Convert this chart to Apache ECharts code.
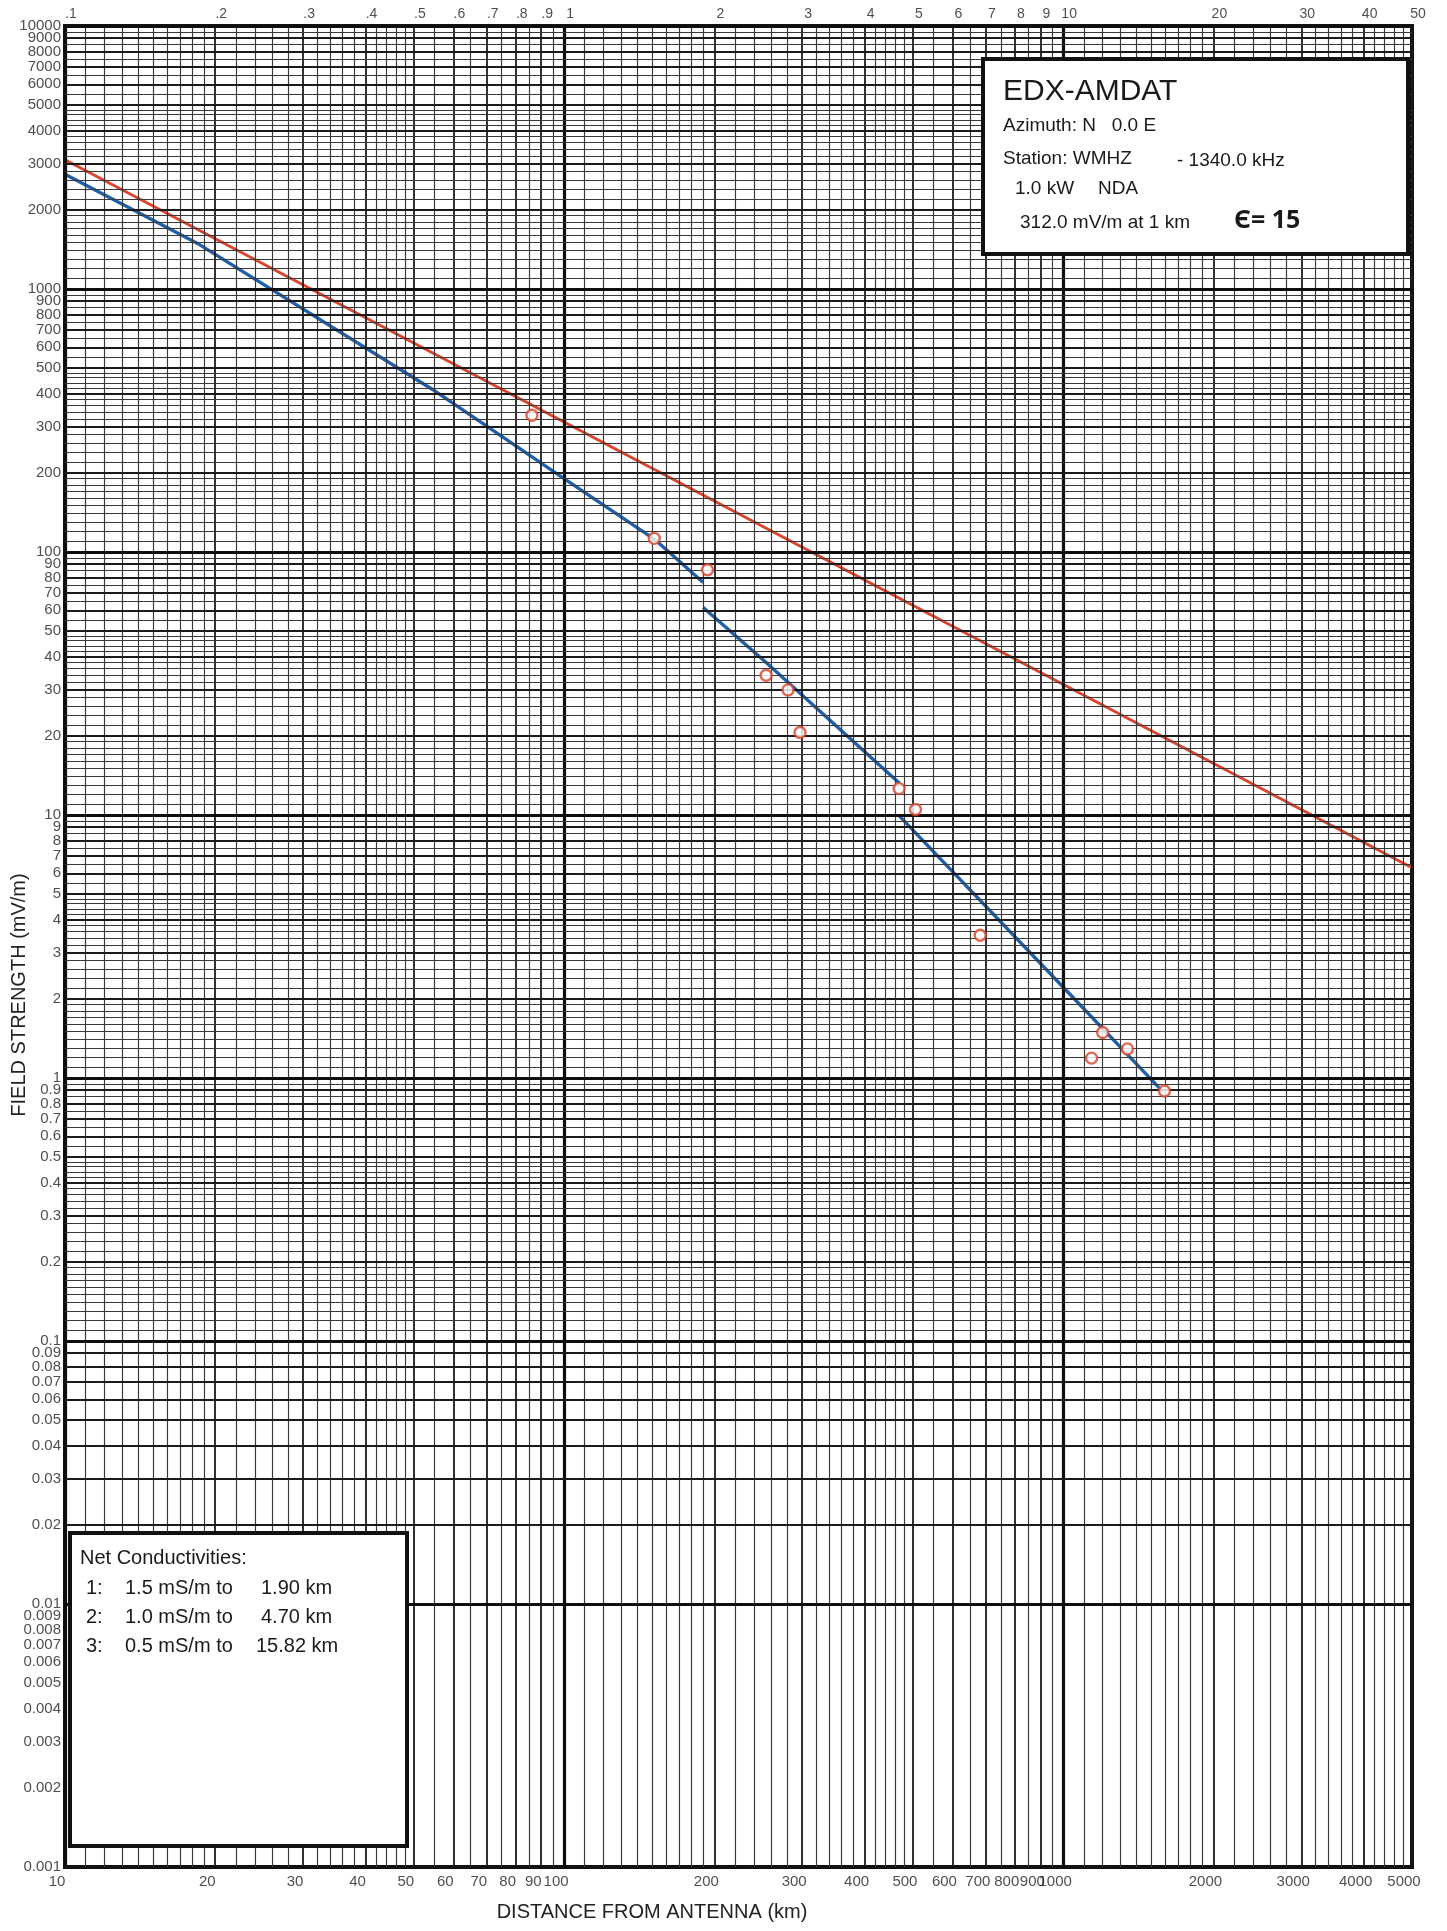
<!DOCTYPE html>
<html><head><meta charset="utf-8">
<script src="https://cdn.jsdelivr.net/npm/echarts@6/dist/echarts.min.js"></script>
<style>html,body{margin:0;padding:0;background:#fff}#c{width:1447px;height:1931px}</style>
</head><body><div id="c"></div>
<script>
// ---- data (distance in km on the top scale, field strength in mV/m) ----
const redLine = [[0.1, 3100], [1, 312], [50, 6.3]];
const blueSeg1 = [[0.1, 2730], [0.186, 1475], [0.545, 415], [1.0, 190], [1.516, 112], [1.9, 76.5]];
const blueSeg2 = [[1.9, 61.5], [2.54, 38.0], [4.7, 13.2]];
const blueSeg3 = [[4.7, 9.9], [10.06, 2.19], [15.82, 0.89]];
const measDist  = [0.862, 1.516, 1.938, 2.54, 2.81, 2.97, 4.69, 5.06, 6.82, 11.4, 12.0, 13.45, 15.96];
const measField = [331, 112.7, 85.6, 34.0, 29.9, 20.6, 12.6, 10.5, 3.49, 1.19, 1.49, 1.29, 0.892];

// ---- tick labels ----
const topTickValues = [0.1,0.2,0.3,0.4,0.5,0.6,0.7,0.8,0.9,1,2,3,4,5,6,7,8,9,10,20,30,40,50];
const topTickLabels = ['.1','.2','.3','.4','.5','.6','.7','.8','.9','1','2','3','4','5','6','7','8','9','10','20','30','40','50'];
const bottomTickValues = [10,20,30,40,50,60,70,80,90,100,200,300,400,500,600,700,800,900,1000,2000,3000,4000,5000];
const bottomTickLabels = ['10','20','30','40','50','60','70','80','90','100','200','300','400','500','600','700','800','900','1000','2000','3000','4000','5000'];
const yTickValues = [10000,9000,8000,7000,6000,5000,4000,3000,2000,1000,900,800,700,600,500,400,300,200,
  100,90,80,70,60,50,40,30,20,10,9,8,7,6,5,4,3,2,1,0.9,0.8,0.7,0.6,0.5,0.4,0.3,0.2,
  0.1,0.09,0.08,0.07,0.06,0.05,0.04,0.03,0.02,0.01,0.009,0.008,0.007,0.006,0.005,0.004,0.003,0.002,0.001];
const yTickLabels = ['10000','9000','8000','7000','6000','5000','4000','3000','2000','1000','900','800','700','600','500','400','300','200',
  '100','90','80','70','60','50','40','30','20','10','9','8','7','6','5','4','3','2','1','0.9','0.8','0.7','0.6','0.5','0.4','0.3','0.2',
  '0.1','0.09','0.08','0.07','0.06','0.05','0.04','0.03','0.02','0.01','0.009','0.008','0.007','0.006','0.005','0.004','0.003','0.002','0.001'];

// ---- graph paper rulings ----
const minorMant = [1.1,1.2,1.3,1.4,1.5,1.6,1.7,1.8,1.9,2.2,2.4,2.6,2.8,3.2,3.4,3.6,3.8,4.2,4.4,4.6,4.8,5.5,6.5,7.5,8.5,9.5];
const majorMant = [2,3,4,5,6,7,8,9];
const xDecades = [0.1, 1, 10, 100];
const yDecades = [0.001, 0.01, 0.1, 1, 10, 100, 1000, 10000];

const MINOR = {width: 1.15, color: '#383838', type: 'solid'};
const MAJOR = {width: 1.8, color: '#1a1a1a', type: 'solid'};
const DECADE = {width: 3.2, color: '#0e0e0e', type: 'solid'};

function rulings(key, decades, lo, hi) {
  const out = [];
  const add = (v, st) => { if (v >= lo - 1e-12 && v <= hi + 1e-9) { const o = {lineStyle: st}; o[key] = v; out.push(o); } };
  decades.forEach(b => {
    minorMant.forEach(m => add(+(m * b).toPrecision(6), MINOR));
    majorMant.forEach(m => add(+(m * b).toPrecision(6), MAJOR));
  });
  decades.forEach(b => add(b, DECADE));
  return out;
}

const FONT = "'Liberation Sans', Arial, sans-serif";
const chart = echarts.init(document.getElementById('c'), null, {renderer: 'canvas'});

const hidden = {axisLine: {show: false}, axisTick: {show: false}, axisLabel: {show: false}, splitLine: {show: false}};
const txt = (x, y, s, font) => ({type: 'text', z: 21, x: x, y: y, style: {text: s, font: font, fill: '#1a1a1a', textVerticalAlign: 'middle'}});
const F19 = '19px ' + FONT, F20 = '20px ' + FONT;

const option = {
  animation: false,
  backgroundColor: '#fff',
  grid: {left: 65, right: 35, top: 26, bottom: 64, show: true, borderColor: '#111', borderWidth: 4, backgroundColor: '#fff'},
  xAxis: [
    Object.assign({type: 'log', logBase: 10, min: 0.1, max: 50, position: 'top'}, hidden),
    Object.assign({type: 'log', logBase: 10, min: 10, max: 5000, position: 'bottom'}, hidden)
  ],
  yAxis: [Object.assign({type: 'log', logBase: 10, min: 0.001, max: 10000}, hidden)],
  series: [
    {type: 'line', name: 'vgrid', xAxisIndex: 0, yAxisIndex: 0, data: [], z: 1, silent: true,
     markLine: {silent: true, symbol: ['none', 'none'], label: {show: false}, animation: false,
       data: rulings('xAxis', xDecades, 0.1, 50)}},
    {type: 'line', name: 'hgrid', xAxisIndex: 0, yAxisIndex: 0, data: [], z: 1, silent: true,
     markLine: {silent: true, symbol: ['none', 'none'], label: {show: false}, animation: false,
       data: rulings('yAxis', yDecades, 0.001, 10000)}},
    {type: 'line', name: 'inverse distance', data: redLine, showSymbol: false, z: 4,
     lineStyle: {color: '#d9452d', width: 3}},
    {type: 'line', name: 'seg1', data: blueSeg1, showSymbol: false, z: 4,
     lineStyle: {color: '#2160a8', width: 3.4}},
    {type: 'line', name: 'seg2', data: blueSeg2, showSymbol: false, z: 4,
     lineStyle: {color: '#2160a8', width: 3.4}},
    {type: 'line', name: 'seg3', data: blueSeg3, showSymbol: false, z: 4,
     lineStyle: {color: '#2160a8', width: 3.4}},
    {type: 'scatter', name: 'measured', data: measDist.map((d, i) => [d, measField[i]]), z: 5,
     symbol: 'circle', symbolSize: 11,
     itemStyle: {color: '#ffffff', borderColor: '#d9412b', borderWidth: 2.4}},
    // tick labels
    {type: 'scatter', name: 'ylabels', data: yTickValues.map(v => [0.1, v]), symbolSize: 0, clip: false, silent: true, z: 6,
     label: {show: true, position: 'left', distance: 4, fontFamily: FONT, fontSize: 15, color: '#222',
       formatter: p => yTickLabels[p.dataIndex]}},
    {type: 'scatter', name: 'toplabels', data: topTickValues.map(v => [v, 10000]), symbolSize: 0, clip: false, silent: true, z: 6,
     label: {show: true, position: 'top', distance: 5, fontFamily: FONT, fontSize: 14, color: '#222', offset: [6, 0],
       formatter: p => topTickLabels[p.dataIndex]}},
    {type: 'scatter', name: 'bottomlabels', xAxisIndex: 1, data: bottomTickValues.map(v => [v, 0.001]), symbolSize: 0, clip: false, silent: true, z: 6,
     label: {show: true, position: 'bottom', distance: 7, fontFamily: FONT, fontSize: 15, color: '#222', offset: [-8, 0],
       formatter: p => bottomTickLabels[p.dataIndex]}}
  ],
  graphic: [
    {type: 'text', x: 652, y: 1912, z: 20, style: {text: 'DISTANCE FROM ANTENNA (km)', font: F20, fill: '#222', textAlign: 'center', textVerticalAlign: 'middle'}},
    {type: 'text', x: 19, y: 995, rotation: Math.PI / 2, z: 20, style: {text: 'FIELD STRENGTH (mV/m)', font: F20, fill: '#222', textAlign: 'center', textVerticalAlign: 'middle'}},
    // info box
    {type: 'rect', z: 20, shape: {x: 983, y: 59, width: 425, height: 195}, style: {fill: '#fff', stroke: '#111', lineWidth: 4}},
    txt(1003, 92, 'EDX-AMDAT', '30px ' + FONT),
    txt(1003, 126, 'Azimuth: N   0.0 E', F19),
    txt(1003, 159, 'Station: WMHZ', F19),
    txt(1177, 161, '- 1340.0 kHz', F19),
    txt(1015, 189, '1.0 kW', F19),
    txt(1098, 189, 'NDA', F19),
    txt(1020, 223, '312.0 mV/m at 1 km', F19),
    txt(1234, 221, '\u0404= 15', 'bold 25px "Open Sans", "Noto Sans", sans-serif'),
    // conductivity box
    {type: 'rect', z: 20, shape: {x: 70, y: 1533, width: 337, height: 313}, style: {fill: '#fff', stroke: '#111', lineWidth: 4}},
    txt(80, 1558, 'Net Conductivities:', F20),
    txt(86, 1588, '1:', F20), txt(125, 1588, '1.5 mS/m to', F20), txt(261, 1588, '1.90 km', F20),
    txt(86, 1617, '2:', F20), txt(125, 1617, '1.0 mS/m to', F20), txt(261, 1617, '4.70 km', F20),
    txt(86, 1646, '3:', F20), txt(125, 1646, '0.5 mS/m to', F20), txt(256, 1646, '15.82 km', F20)
  ]
};
chart.setOption(option);
</script></body></html>
